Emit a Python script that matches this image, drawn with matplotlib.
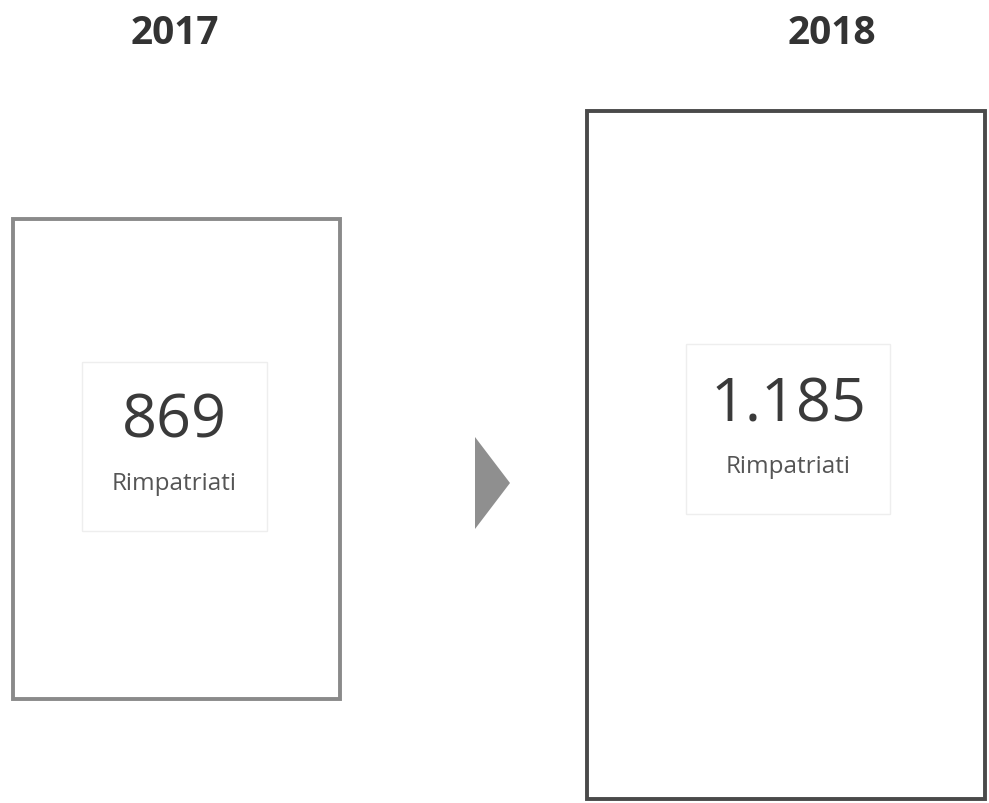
import matplotlib
matplotlib.use("Agg")
import matplotlib.pyplot as plt
from matplotlib.patches import Rectangle, Polygon

years = ["2017", "2018"]
values = ["869", "1.185"]
sublabel = "Rimpatriati"

# layout (pixel coordinates, y downwards)
outer_boxes = [(13, 220, 327, 480), (587, 112, 398, 688)]
inner_boxes = [(82, 363, 185, 169), (686, 345, 204, 170)]
outer_colors = ["#8a8a8a", "#4a4a4a"]
title_x = [175, 832]
value_y = [422, 406]
label_y = [484, 467]

fig = plt.figure(figsize=(9.89, 8.04), dpi=100)
ax = fig.add_axes([0, 0, 1, 1])
ax.set_xlim(0, 989)
ax.set_ylim(804, 0)
ax.axis("off")

font = "Open Sans"
for i in range(2):
    x, y, w, h = outer_boxes[i]
    ax.add_patch(Rectangle((x, y), w, h, fill=False, edgecolor=outer_colors[i], linewidth=2.8))
    ix, iy, iw, ih = inner_boxes[i]
    ax.add_patch(Rectangle((ix, iy), iw, ih, fill=False, edgecolor="#eeeeee", linewidth=1.0))
    ax.text(title_x[i], 33, years[i], ha="center", va="center", fontsize=28,
            fontweight="bold", color="#333333", family=font)
    cx = ix + iw / 2
    ax.text(cx, value_y[i], values[i], ha="center", va="center", fontsize=44,
            color="#3a3a3a", family=font)
    ax.text(cx, label_y[i], sublabel, ha="center", va="center", fontsize=17.5,
            color="#555555", family=font)

ax.add_patch(Polygon([(475, 438), (510, 484), (475, 530)], closed=True,
                     facecolor="#8f8f8f", edgecolor="none"))

fig.savefig("out.png", dpi=100, facecolor="white")
